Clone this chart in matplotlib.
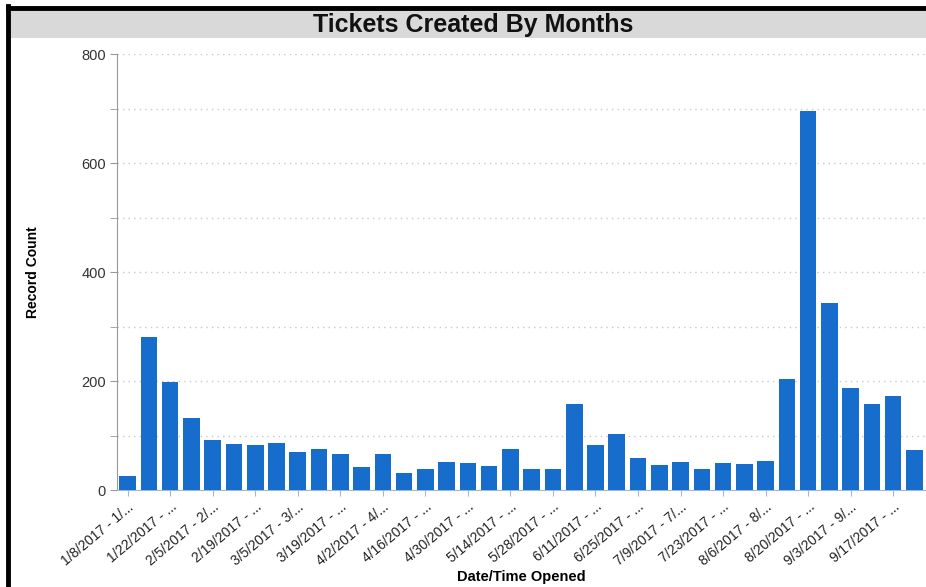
import matplotlib.pyplot as plt
from matplotlib.patches import Rectangle
from matplotlib.ticker import MultipleLocator
import numpy as np

plt.rcParams['font.family'] = ['Liberation Sans', 'DejaVu Sans']

# weekly ticket counts, 1/8/2017 onwards
counts = [25, 280, 198, 132, 92, 84, 82, 86, 69, 75,
          67, 42, 67, 31, 39, 52, 50, 44, 75, 38,
          39, 158, 83, 102, 59, 46, 52, 38, 50, 48,
          54, 203, 695, 343, 188, 157, 173, 73]

# labels shown on every other bar
tick_labels = ["1/8/2017 - 1/...", "1/22/2017 - ...", "2/5/2017 - 2/...",
               "2/19/2017 - ...", "3/5/2017 - 3/...", "3/19/2017 - ...",
               "4/2/2017 - 4/...", "4/16/2017 - ...", "4/30/2017 - ...",
               "5/14/2017 - ...", "5/28/2017 - ...", "6/11/2017 - ...",
               "6/25/2017 - ...", "7/9/2017 - 7/...", "7/23/2017 - ...",
               "8/6/2017 - 8/...", "8/20/2017 - ...", "9/3/2017 - 9/...",
               "9/17/2017 - ..."]

fig = plt.figure(figsize=(9.26, 5.87), dpi=100)

# screenshot frame and title band
fig.add_artist(plt.Line2D([0.009, 0.009], [0, 0.99], color='black', lw=3.5,
                          transform=fig.transFigure))
fig.add_artist(plt.Line2D([0.009, 1.0], [0.987, 0.987], color='black', lw=3.5,
                          transform=fig.transFigure))
fig.add_artist(Rectangle((0.011, 0.935), 0.989, 0.05, transform=fig.transFigure,
                         facecolor='#d9d9d9', edgecolor='none'))
fig.text(0.511, 0.958, 'Tickets Created By Months', ha='center', va='center',
         fontsize=18, fontweight='bold', color='#111111')

ax = fig.add_axes([0.1264, 0.1652, 0.8726, 0.7428])
x = np.arange(len(counts))
ax.bar(x, counts, width=0.78, color='#166dcc', zorder=3)

ax.set_xlim(-0.5, len(counts) - 0.5)
ax.set_ylim(0, 800)
ax.yaxis.set_major_locator(MultipleLocator(200))
ax.yaxis.set_minor_locator(MultipleLocator(100))
ax.grid(axis='y', which='both', linestyle=(0, (1, 3)), color='#c8c8c8', lw=1, zorder=0)

ax.set_xticks(x[::2])
ax.set_xticklabels(tick_labels, rotation=40, ha='right', rotation_mode='anchor',
                   fontsize=10, color='#222222')
ax.tick_params(axis='x', length=4, color='#9fb8d0', pad=3)
ax.tick_params(axis='y', which='both', length=5, color='#999999', labelsize=10.5,
               labelcolor='#333333', pad=3)

for side in ['top', 'right']:
    ax.spines[side].set_visible(False)
ax.spines['left'].set_color('#999999')
ax.spines['bottom'].set_color('#9fb8d0')

ax.set_ylabel('Record Count', fontsize=10, fontweight='bold', labelpad=0)
ax.yaxis.set_label_coords(-0.095, 0.5)
ax.set_xlabel('Date/Time Opened', fontsize=10.5, fontweight='bold', labelpad=1)

fig.savefig('out.png', dpi=100)
